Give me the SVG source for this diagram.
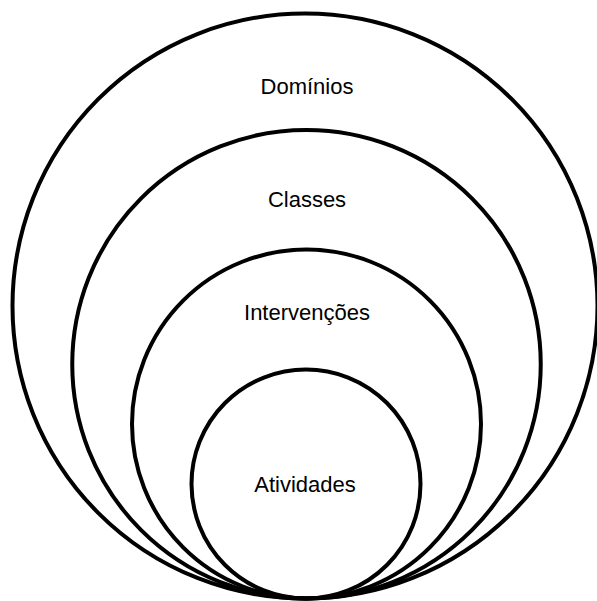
<svg xmlns="http://www.w3.org/2000/svg" width="597" height="601" viewBox="0 0 597 601">
<style>
.c{fill:none;stroke:#000;stroke-width:4}
.t{font-family:"Liberation Sans",Arial,sans-serif;font-size:22px;fill:#000;text-anchor:middle}
</style>
<rect width="597" height="601" fill="#fff"/>
<g id="dominios"><circle class="c" cx="305" cy="306" r="292.5"/><text class="t" x="307" y="94">Domínios</text></g>
<g id="classes"><circle class="c" cx="306.5" cy="364.25" r="234.25"/><text class="t" x="307" y="207">Classes</text></g>
<g id="intervencoes"><circle class="c" cx="306.5" cy="424" r="174.5"/><text class="t" x="307" y="320">Intervenções</text></g>
<g id="atividades"><circle class="c" cx="306" cy="484" r="114.5"/><text class="t" x="305" y="492">Atividades</text></g>
<g id="connectors"/>
</svg>
